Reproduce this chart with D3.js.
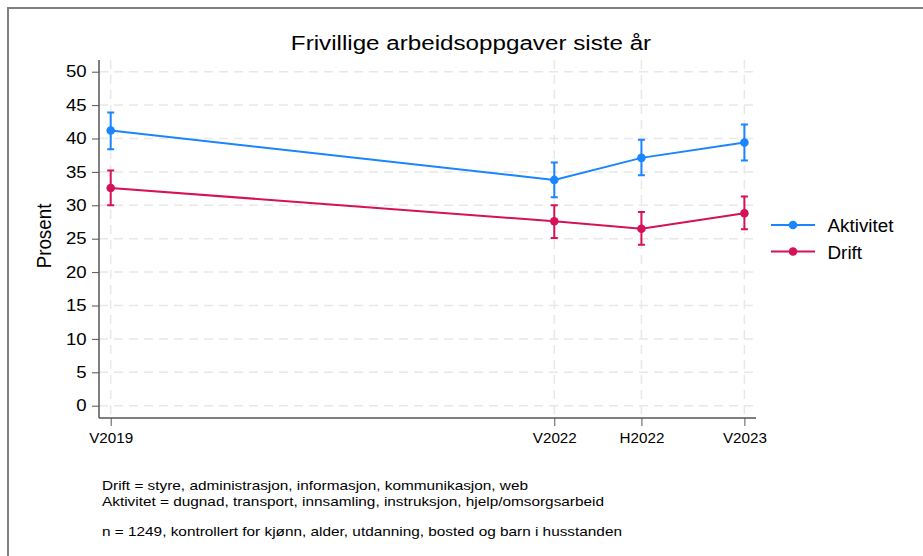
<!DOCTYPE html>
<html>
<head>
<meta charset="utf-8">
<script src="https://cdn.jsdelivr.net/npm/d3@7"></script>
<style>
    body { margin: 0; background: #fff; }
    svg { display: block; font-family: "Liberation Sans", Arial, sans-serif; }
    .axis path, .axis line { stroke: #555; }
    .axis text { fill: #000; }
    .grid line { stroke: #e8e8e8; stroke-width: 1.5; stroke-dasharray: 9,6; }
</style>
</head>
<body>
<script>
//survey waves and where they sit on the time axis
var waves = ["V2019", "V2022", "H2022", "V2023"];
var wavePos = [2019.2, 2022.0, 2022.55, 2023.2];

//Aktivitet estimates with confidence intervals
var aktivitet = [41.2, 33.8, 37.1, 39.4];
var aktivitetLo = [38.4, 31.2, 34.5, 36.7];
var aktivitetHi = [43.9, 36.4, 39.8, 42.1];

//Drift estimates with confidence intervals
var drift = [32.6, 27.6, 26.5, 28.8];
var driftLo = [30.0, 25.1, 24.1, 26.4];
var driftHi = [35.2, 30.0, 29.0, 31.3];

var yTicks = [0, 5, 10, 15, 20, 25, 30, 35, 40, 45, 50];
var seriesNames = ["Aktivitet", "Drift"];
var seriesColors = ["#1a85ff", "#d41159"];
var notes = ["Drift = styre, administrasjon, informasjon, kommunikasjon, web",
             "Aktivitet = dugnad, transport, innsamling, instruksjon, hjelp/omsorgsarbeid",
             "",
             "n = 1249, kontrollert for kjønn, alder, utdanning, bosted og barn i husstanden"];

(function(){
    var width = 923, height = 556;

    var svg = d3.select("body").append("svg")
        .attr("width", width)
        .attr("height", height);

    //widen text horizontally (reference glyphs are wider than Arial)
    function stretch(sel, sx){
        sel.each(function(){
            var t = d3.select(this);
            var x0 = +t.attr("x") || 0;
            t.attr("x", x0 / sx).attr("transform", "scale(" + sx + ",1)");
        });
    }

    //outer frame (runs off the right and bottom edge)
    svg.append("rect")
        .attr("x", 8).attr("y", 8)
        .attr("width", 1000).attr("height", 1000)
        .attr("fill", "#fff")
        .attr("stroke", "#808080")
        .attr("stroke-width", 2);

    //plot box
    var left = 99, right = 756, top = 60, bottom = 418;

    var x = d3.scaleLinear()
        .domain([2019.2, 2023.2])
        .range([110.7, 744.4]);

    var y = d3.scaleLinear()
        .domain([0, 50])
        .range([405.7, 71.7]);

    //gridlines
    var grid = svg.append("g").attr("class", "grid");
    grid.selectAll(".hgrid")
        .data(yTicks)
        .enter()
        .append("line")
        .attr("x1", left).attr("x2", right)
        .attr("y1", function(d){ return y(d); })
        .attr("y2", function(d){ return y(d); });
    grid.selectAll(".vgrid")
        .data(wavePos)
        .enter()
        .append("line")
        .attr("y1", top).attr("y2", bottom)
        .attr("x1", function(d){ return x(d); })
        .attr("x2", function(d){ return x(d); });

    //y axis
    var yAxis = svg.append("g")
        .attr("class", "axis")
        .attr("transform", "translate(" + left + ",0)")
        .call(d3.axisLeft(y).tickValues(yTicks).tickSize(7).tickPadding(5.5).tickSizeOuter(0));
    yAxis.select(".domain").attr("d", "M0," + top + "V" + bottom).attr("stroke-width", 1.5);
    yAxis.selectAll("text").style("font-size", "16px");
    stretch(yAxis.selectAll("text"), 1.16);

    //x axis
    var xAxis = svg.append("g")
        .attr("class", "axis")
        .attr("transform", "translate(0," + bottom + ")")
        .call(d3.axisBottom(x).tickValues(wavePos).tickSize(8).tickPadding(6)
            .tickFormat(function(d, i){ return waves[i]; }));
    xAxis.select(".domain").attr("d", "M" + left + ",0H" + right).attr("stroke-width", 1.5);
    xAxis.selectAll("text")
        .attr("y", 25.5).attr("dy", null)
        .style("font-size", "14.5px");
    stretch(xAxis.selectAll("text"), 1.05);

    //axis title
    svg.append("text")
        .attr("transform", "translate(51,236) rotate(-90) scale(1,1.12)")
        .attr("text-anchor", "middle")
        .style("font-size", "18.8px")
        .text("Prosent");

    //chart title
    svg.append("text")
        .attr("x", 471).attr("y", 50)
        .attr("text-anchor", "middle")
        .style("font-size", "20px")
        .text("Frivillige arbeidsoppgaver siste år")
        .call(stretch, 1.21);

    var series = [
        {name: seriesNames[0], color: seriesColors[0], est: aktivitet, lo: aktivitetLo, hi: aktivitetHi},
        {name: seriesNames[1], color: seriesColors[1], est: drift, lo: driftLo, hi: driftHi}
    ];

    var line = d3.line()
        .x(function(d){ return x(d.pos); })
        .y(function(d){ return y(d.val); });

    series.forEach(function(s){
        var pts = wavePos.map(function(p, i){
            return {pos: p, val: s.est[i], lo: s.lo[i], hi: s.hi[i]};
        });
        var g = svg.append("g");

        //confidence intervals
        g.selectAll(".ci")
            .data(pts)
            .enter()
            .append("path")
            .attr("fill", "none")
            .attr("stroke", s.color)
            .attr("stroke-width", 2)
            .attr("d", function(d){
                var px = x(d.pos), y0 = y(d.lo), y1 = y(d.hi);
                return "M" + (px - 3.5) + "," + y1 + "H" + (px + 3.5) +
                       "M" + px + "," + y1 + "V" + y0 +
                       "M" + (px - 3.5) + "," + y0 + "H" + (px + 3.5);
            });

        g.append("path")
            .datum(pts)
            .attr("fill", "none")
            .attr("stroke", s.color)
            .attr("stroke-width", 2)
            .attr("d", line);

        g.selectAll(".dot")
            .data(pts)
            .enter()
            .append("circle")
            .attr("cx", function(d){ return x(d.pos); })
            .attr("cy", function(d){ return y(d.val); })
            .attr("r", 4.3)
            .attr("fill", s.color);
    });

    //legend
    var legend = svg.selectAll(".legend")
        .data(series)
        .enter()
        .append("g")
        .attr("transform", function(d, i){ return "translate(771," + (225 + i * 26.5) + ")"; });
    legend.append("line")
        .attr("x1", 0).attr("x2", 44)
        .attr("stroke", function(d){ return d.color; })
        .attr("stroke-width", 2);
    legend.append("circle")
        .attr("cx", 22).attr("r", 4.3)
        .attr("fill", function(d){ return d.color; });
    legend.append("text")
        .attr("x", 56.5).attr("y", 7)
        .style("font-size", "18.5px")
        .text(function(d){ return d.name; })
        .call(stretch, 1.02);

    //notes
    svg.selectAll(".note")
        .data(notes)
        .enter()
        .append("text")
        .attr("x", 102)
        .attr("y", function(d, i){ return 490.5 + i * 15.3; })
        .style("font-size", "12.8px")
        .text(function(d){ return d; })
        .call(stretch, 1.2);
})();
</script>
</body>
</html>
